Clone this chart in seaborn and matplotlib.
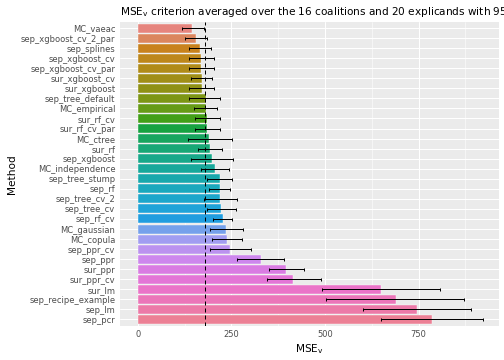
import numpy as np
import pandas as pd
import seaborn as sns
import matplotlib.pyplot as plt

# Methods, ordered top to bottom as in the chart
methods = [
    "MC_vaeac", "sep_xgboost_cv_2_par", "sep_splines", "sep_xgboost_cv",
    "sep_xgboost_cv_par", "sur_xgboost_cv", "sur_xgboost", "sep_tree_default",
    "MC_empirical", "sur_rf_cv", "sur_rf_cv_par", "MC_ctree", "sur_rf",
    "sep_xgboost", "MC_independence", "sep_tree_stump", "sep_rf",
    "sep_tree_cv_2", "sep_tree_cv", "sep_rf_cv", "MC_gaussian", "MC_copula",
    "sep_ppr_cv", "sep_ppr", "sur_ppr", "sur_ppr_cv", "sur_lm",
    "sep_recipe_example", "sep_lm", "sep_pcr",
]
mse = [
    145, 156, 167, 170, 170, 172, 172, 181, 181, 185, 185, 190, 194,
    199, 207, 220, 220, 220, 223, 228, 237, 239, 247, 328, 397, 416,
    649, 689, 745, 785,
]
ci_low = [
    118, 127, 138, 137, 137, 143, 138, 138, 149, 152, 152, 133, 162,
    142, 170, 186, 191, 176, 186, 201, 192, 199, 192, 265, 350, 344,
    491, 504, 602, 650,
]
ci_high = [
    176, 185, 196, 203, 203, 199, 203, 219, 213, 219, 219, 251, 224,
    254, 245, 251, 247, 265, 262, 253, 281, 278, 303, 390, 444, 489,
    808, 871, 889, 921,
]
reference_mse = 180


def gg_hue(n, l=65, c=100):
    # ggplot2-style hcl hue palette (polar LUV -> sRGB)
    hues = np.linspace(15, 375, n + 1)[:-1]
    xn, yn, zn = 95.047, 100.0, 108.883
    un = 4 * xn / (xn + 15 * yn + 3 * zn)
    vn = 9 * yn / (xn + 15 * yn + 3 * zn)
    m = np.array([[3.2404542, -1.5371385, -0.4985314],
                  [-0.9692660, 1.8760108, 0.0415560],
                  [0.0556434, -0.2040259, 1.0572252]])
    out = []
    for h in hues:
        u = c * np.cos(np.radians(h))
        v = c * np.sin(np.radians(h))
        y = yn * ((l + 16) / 116) ** 3
        up = u / (13 * l) + un
        vp = v / (13 * l) + vn
        x = y * 9 * up / (4 * vp)
        z = y * (12 - 3 * up - 20 * vp) / (4 * vp)
        rgb = m @ (np.array([x, y, z]) / 100)
        rgb = np.where(rgb <= 0.0031308, 12.92 * rgb,
                       1.055 * np.clip(rgb, 0, None) ** (1 / 2.4) - 0.055)
        out.append(tuple(np.clip(rgb, 0, 1)))
    return out


df = pd.DataFrame({"Method": methods, "MSE": mse, "low": ci_low, "high": ci_high})
palette = dict(zip(methods, gg_hue(len(methods))))

sns.set_theme(style="darkgrid", rc={
    "axes.facecolor": "#EBEBEB",
    "grid.color": "white",
    "grid.linewidth": 1.0,
    "axes.edgecolor": "#EBEBEB",
    "xtick.color": "#333333",
    "ytick.color": "#333333",
    "xtick.labelcolor": "#4D4D4D",
    "ytick.labelcolor": "#4D4D4D",
})

fig = plt.figure(figsize=(7, 5), dpi=72)
ax = fig.add_axes([120 / 504, 1 - 325.5 / 360, (499 - 120) / 504, (325.5 - 22) / 360])

sns.barplot(data=df, x="MSE", y="Method", hue="Method", palette=palette,
            order=methods, width=0.9, edgecolor="white", linewidth=0.4,
            legend=False, ax=ax, zorder=2)

ypos = np.arange(len(methods))
ax.errorbar(df["MSE"], ypos,
            xerr=[df["MSE"] - df["low"], df["high"] - df["MSE"]],
            fmt="none", ecolor="black", elinewidth=1.0, capsize=1.5,
            capthick=1.0, zorder=3)
ax.axvline(reference_mse, color="black", linestyle=(0, (4, 3)), linewidth=1.0, zorder=4)

ax.set_xlim(-47.4, 965)
ax.set_ylim(len(methods) - 0.4, -0.6)
ax.set_xticks([0, 250, 500, 750])
ax.set_xticks([125, 375, 625, 875], minor=True)
ax.grid(which="minor", axis="x", color="white", linewidth=0.5)
ax.grid(which="major", axis="both", color="white", linewidth=1.0)
ax.tick_params(axis="both", which="major", length=2.7, width=0.8, labelsize=8.4, pad=2)
ax.tick_params(axis="x", which="minor", length=0)
for spine in ax.spines.values():
    spine.set_visible(False)

ax.set_xlabel(r"MSE$_\mathregular{v}$", fontsize=10.5, color="black", labelpad=3)
ax.set_ylabel("Method", fontsize=10.5, color="black", labelpad=4)
ax.set_title(r"MSE$_\mathregular{v}$ criterion averaged over the 16 coalitions and 20 explicands "
             r"with 95% confidence intervals",
             fontsize=10.5, loc="left", pad=7, color="black")

fig.savefig("out.png", dpi=72)
